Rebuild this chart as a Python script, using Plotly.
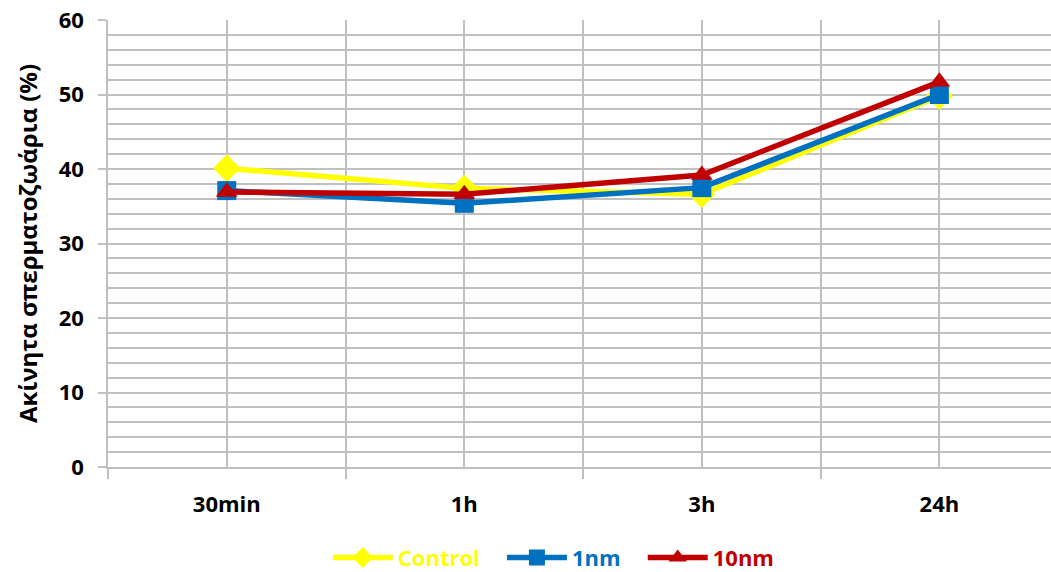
import plotly.graph_objects as go

# Time points and immotile sperm percentages per treatment
categories = ["30min", "1h", "3h", "24h"]
control = [40.1, 37.4, 36.6, 49.8]
nm1 = [37.1, 35.4, 37.5, 50.0]
nm10 = [36.9, 36.6, 39.2, 51.7]

series_names = ["Control", "1nm", "10nm"]
series_colors = ["#FFFF00", "#0070C0", "#C00000"]
series_symbols = ["diamond", "square", "triangle-up"]

FONT = "Open Sans"
GRID = "#C0C0C0"

x_idx = list(range(len(categories)))

fig = go.Figure()
for name, vals, color, sym in zip(series_names, [control, nm1, nm10], series_colors, series_symbols):
    fig.add_trace(go.Scatter(
        x=x_idx, y=vals, mode="lines+markers",
        name=f"<span style='color:{color}'><b>{name}</b></span>&nbsp;&nbsp;&nbsp;",
        line=dict(color=color, width=5.5),
        marker=dict(symbol=sym, size=19 if sym != "diamond" else 21, color=color,
                    line=dict(width=0)),
    ))

fig.update_layout(
    width=1051, height=572,
    margin=dict(l=108, r=0, t=20, b=105),
    plot_bgcolor="white", paper_bgcolor="white",
    font=dict(family=FONT, size=21, color="black"),
    showlegend=True,
    legend=dict(orientation="h", xref="container", yref="container",
                x=0.535, xanchor="center", y=0.025, yanchor="middle",
                font=dict(family=FONT, size=22), itemwidth=60,
                traceorder="normal"),
)

fig.update_xaxes(
    range=[-0.5, 3.47],
    tickmode="array", tickvals=x_idx, ticktext=[f"<b>{c}</b>" for c in categories],
    showgrid=True, gridcolor=GRID, gridwidth=1.5,
    ticks="", ticklabelstandoff=17,
    showline=True, linecolor=GRID, linewidth=1.5,
    zeroline=False,
    minor=dict(tickvals=[-0.5, 0.5, 1.5, 2.5, 3.5], showgrid=True,
               gridcolor=GRID, gridwidth=1.5, ticks="outside", ticklen=10,
               tickcolor=GRID, tickwidth=1.5),
    tickfont=dict(family=FONT, size=22, color="black"),
)

fig.update_yaxes(
    range=[0, 60],
    tickvals=[0, 10, 20, 30, 40, 50, 60],
    ticktext=[f"<b>{v}</b>" for v in [0, 10, 20, 30, 40, 50, 60]],
    showgrid=True, gridcolor=GRID, gridwidth=1.5,
    ticks="outside", ticklen=8, tickcolor=GRID, tickwidth=1.5,
    ticklabelstandoff=10,
    showline=True, linecolor=GRID, linewidth=1.5,
    zeroline=False,
    minor=dict(dtick=2, showgrid=True, gridcolor=GRID, gridwidth=1.5),
    title=dict(text="<b>Ακίνητα σπερματοζωάρια (%)</b>", standoff=14,
               font=dict(family=FONT, size=24, color="black")),
    tickfont=dict(family=FONT, size=22, color="black"),
)

fig.write_html("out.html")
